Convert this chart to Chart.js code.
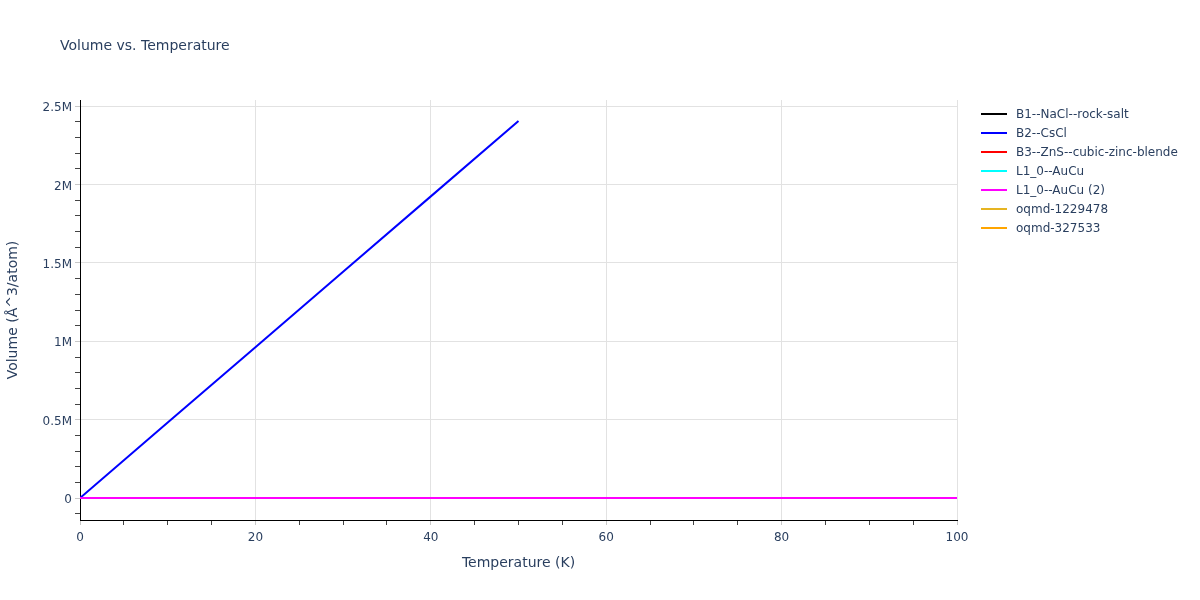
<!DOCTYPE html>
<html>
<head>
<meta charset="utf-8">
<script src="https://cdn.jsdelivr.net/npm/chart.js@4/dist/chart.umd.min.js"></script>
<style>
  body { margin: 0; background: #fff; font-family: "DejaVu Sans", verdana, arial, sans-serif; }
  #wrap { position: relative; width: 1200px; height: 600px; }
  #title { position: absolute; left: 60px; top: 36px; font-size: 14px; line-height: 18px; color: #2a3f5f; }
  #legend { position: absolute; left: 981px; top: 104px; font-size: 12px; color: #2a3f5f; }
  .item { height: 19px; display: flex; align-items: center; white-space: nowrap; }
  .swatch { width: 26px; height: 2px; margin-right: 9px; }
</style>
</head>
<body>
<div id="wrap">
  <canvas id="chart" width="1200" height="600"></canvas>
  <div id="title">Volume vs. Temperature</div>
  <div id="legend"></div>
</div>
<script>
// ============ DATA ============
const SERIES_NAMES = ["B1--NaCl--rock-salt", "B2--CsCl", "B3--ZnS--cubic-zinc-blende", "L1_0--AuCu", "L1_0--AuCu (2)", "oqmd-1229478", "oqmd-327533"];
const SERIES_COLORS = ["#000000", "#0000ff", "#ff0000", "#00ffff", "#ff00ff", "#e6b422", "#ffa500"];

const TEMPS_FULL = [0, 10, 20, 30, 40, 50, 60, 70, 80, 90, 100];
const TEMPS_B2 = [0, 10, 20, 30, 40, 50];

const VOL_B1 = [18, 18, 18, 18, 18, 18, 18, 18, 18, 18, 18];
const VOL_B2 = [0, 482000, 963000, 1444000, 1925000, 2406000];
const VOL_B3 = [21, 21, 21, 21, 21, 21, 21, 21, 21, 21, 21];
const VOL_L10 = [16, 16, 16, 16, 16, 16, 16, 16, 16, 16, 16];
const VOL_L10B = [16, 16, 16, 16, 16, 16, 16, 16, 16, 16, 16];
const VOL_OQMD1 = [];
const VOL_OQMD2 = [];

const X_TICKS = [0, 5, 10, 15, 20, 25, 30, 35, 40, 45, 50, 55, 60, 65, 70, 75, 80, 85, 90, 95, 100];
const X_TICKS_MAJOR = [0, 20, 40, 60, 80, 100];
const Y_TICKS = [-100000, 0, 100000, 200000, 300000, 400000, 500000, 600000, 700000, 800000, 900000,
  1000000, 1100000, 1200000, 1300000, 1400000, 1500000, 1600000, 1700000, 1800000, 1900000,
  2000000, 2100000, 2200000, 2300000, 2400000, 2500000];
const Y_TICK_LABELS = { 0: "0", 500000: "0.5M", 1000000: "1M", 1500000: "1.5M", 2000000: "2M", 2500000: "2.5M" };

// ============ UTILS ============
function toPoints(xs, ys) { return ys.map((y, i) => ({ x: xs[i], y })); }

const TEXT_COLOR = "#2a3f5f";
const GRID_COLOR = "#e2e2e2";
const FONT = "'DejaVu Sans', verdana, arial, sans-serif";

const seriesData = [
  toPoints(TEMPS_FULL, VOL_B1),
  toPoints(TEMPS_B2, VOL_B2),
  toPoints(TEMPS_FULL, VOL_B3),
  toPoints(TEMPS_FULL, VOL_L10),
  toPoints(TEMPS_FULL, VOL_L10B),
  VOL_OQMD1,
  VOL_OQMD2
];

// later traces drawn on top, like the original
const datasets = SERIES_NAMES.map((name, i) => ({
  label: name,
  data: seriesData[i],
  borderColor: SERIES_COLORS[i],
  backgroundColor: SERIES_COLORS[i],
  borderWidth: 2,
  pointRadius: 0,
  showLine: true,
  fill: false,
  order: -i
}));

const isMajorY = v => Y_TICK_LABELS[v] !== undefined;
const isMajorX = v => X_TICKS_MAJOR.includes(v);

new Chart(document.getElementById("chart"), {
  type: "scatter",
  data: { datasets },
  options: {
    responsive: false,
    animation: false,
    layout: { padding: { top: 100, right: 243, bottom: 0, left: 0 } },
    plugins: { legend: { display: false }, tooltip: { enabled: false } },
    scales: {
      x: {
        type: "linear",
        min: 0, max: 100,
        afterBuildTicks: s => { s.ticks = X_TICKS.map(v => ({ value: v })); },
        afterFit: s => { s.height = 80; },
        border: { color: "#000", width: 1 },
        grid: {
          color: c => isMajorX(c.tick.value) ? GRID_COLOR : "rgba(0,0,0,0)",
          tickColor: c => isMajorX(c.tick.value) ? "#c8c8c8" : "#444",
          tickLength: 5,
          drawTicks: true
        },
        ticks: {
          autoSkip: false,
          maxRotation: 0,
          padding: 6,
          color: TEXT_COLOR,
          font: { family: FONT, size: 12 },
          callback: v => isMajorX(v) ? String(v) : ""
        },
        title: {
          display: true,
          text: "Temperature (K)",
          color: TEXT_COLOR,
          font: { family: FONT, size: 14 },
          padding: { top: 0, bottom: 28 }
        }
      },
      y: {
        type: "linear",
        min: -140000, max: 2540000,
        afterBuildTicks: s => { s.ticks = Y_TICKS.map(v => ({ value: v })); },
        afterFit: s => { s.width = 80; },
        border: { color: "#000", width: 1 },
        grid: {
          color: c => isMajorY(c.tick.value) ? GRID_COLOR : "rgba(0,0,0,0)",
          tickColor: c => isMajorY(c.tick.value) ? "#c8c8c8" : "#444",
          tickLength: 5,
          drawTicks: true
        },
        ticks: {
          autoSkip: false,
          padding: 3,
          labelOffset: 2,
          color: TEXT_COLOR,
          font: { family: FONT, size: 12 },
          callback: v => Y_TICK_LABELS[v] ?? ""
        },
        title: {
          display: true,
          text: "Volume (Å^3/atom)",
          color: TEXT_COLOR,
          font: { family: FONT, size: 14 },
          padding: { top: 5, bottom: 0 }
        }
      }
    }
  }
});

// ============ LEGEND ============
document.getElementById("legend").innerHTML = SERIES_NAMES.map((name, i) => `
  <div class="item"><span class="swatch" style="background:${SERIES_COLORS[i]}"></span>${name}</div>
`).join("");
</script>
</body>
</html>
